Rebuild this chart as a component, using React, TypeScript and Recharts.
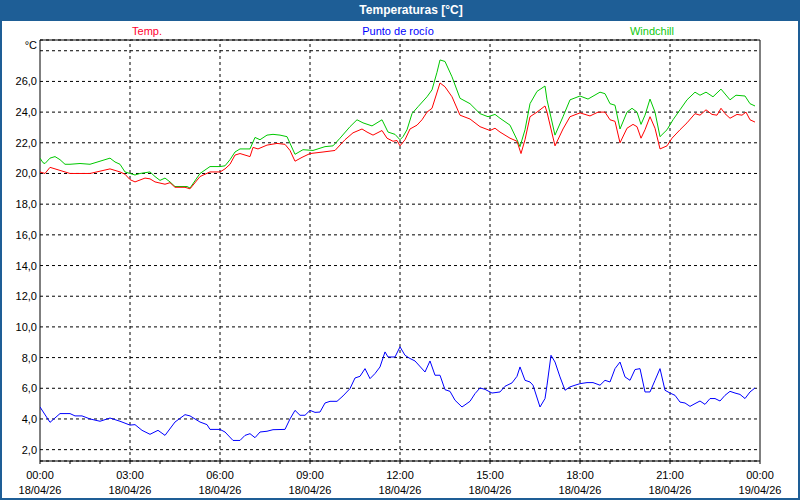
import { LineChart, Line, XAxis, YAxis, CartesianGrid, ReferenceLine, ReferenceArea } from "recharts";

// minutes since 00:00 on 18/04/26
const tempMinutes = [0, 10, 20, 40, 60, 80, 100, 120, 140, 160, 170, 180, 190, 210, 220, 230, 250, 260, 270, 290, 300, 320, 340, 360, 370, 380, 390, 400, 420, 426, 436, 454, 474, 490, 500, 510, 524, 540, 566, 590, 610, 626, 644, 654, 666, 684, 694, 706, 714, 720, 730, 740, 754, 764, 774, 784, 800, 810, 824, 840, 860, 880, 900, 910, 920, 940, 954, 962, 970, 980, 994, 1010, 1014, 1030, 1046, 1060, 1080, 1100, 1116, 1130, 1140, 1150, 1160, 1174, 1186, 1194, 1202, 1210, 1220, 1230, 1240, 1254, 1264, 1280, 1294, 1310, 1320, 1332, 1344, 1354, 1362, 1370, 1380, 1394, 1404, 1412, 1420, 1430];
const tempValues = [20.1, 20.0, 20.4, 20.2, 20.0, 20.0, 20.0, 20.15, 20.3, 20.1, 19.95, 19.6, 19.45, 19.7, 19.65, 19.45, 19.3, 19.4, 19.1, 19.1, 19.0, 19.8, 20.1, 20.1, 20.3, 20.6, 21.2, 21.3, 21.1, 21.7, 21.6, 21.85, 21.96, 21.9, 21.5, 20.8, 21.05, 21.3, 21.4, 21.5, 22.2, 22.65, 22.9, 22.7, 22.5, 22.8, 22.3, 22.1, 22.15, 21.8, 22.2, 22.9, 23.15, 23.5, 24.0, 24.25, 25.9, 25.65, 25.0, 23.8, 23.55, 23.05, 22.8, 22.95, 22.7, 22.3, 22.1, 21.3, 22.2, 23.7, 24.0, 24.4, 24.0, 21.8, 22.9, 23.7, 23.95, 23.75, 24.0, 24.0, 23.5, 23.4, 22.0, 22.95, 23.2, 23.05, 22.3, 22.85, 23.7, 22.95, 21.6, 21.8, 22.3, 22.85, 23.3, 23.9, 23.8, 24.15, 23.85, 23.8, 24.25, 23.9, 23.6, 23.85, 23.8, 24.0, 23.5, 23.35];

const windMinutes = [0, 6, 10, 20, 30, 40, 50, 60, 80, 100, 120, 140, 150, 160, 170, 190, 200, 220, 230, 240, 250, 260, 270, 294, 300, 320, 340, 360, 370, 380, 390, 400, 420, 430, 440, 454, 466, 480, 494, 510, 526, 546, 570, 586, 600, 620, 634, 646, 664, 684, 696, 710, 720, 726, 734, 744, 756, 774, 784, 794, 800, 810, 824, 840, 860, 880, 896, 910, 920, 940, 954, 960, 970, 980, 994, 1010, 1014, 1030, 1046, 1060, 1080, 1096, 1120, 1130, 1140, 1150, 1160, 1174, 1184, 1194, 1202, 1210, 1220, 1230, 1240, 1254, 1266, 1280, 1294, 1310, 1320, 1332, 1346, 1362, 1380, 1392, 1410, 1420, 1430];
const windValues = [21.0, 20.7, 20.65, 21.0, 21.1, 20.9, 20.6, 20.6, 20.65, 20.6, 20.8, 21.0, 20.75, 20.6, 20.1, 19.9, 20.0, 20.1, 19.8, 19.55, 19.7, 19.45, 19.15, 19.15, 19.05, 20.0, 20.45, 20.45, 20.5, 20.9, 21.4, 21.6, 21.6, 22.35, 22.2, 22.5, 22.55, 22.5, 22.4, 21.25, 21.55, 21.5, 21.75, 21.8, 22.3, 23.05, 23.5, 23.3, 23.1, 23.5, 22.7, 22.55, 22.2, 22.4, 22.85, 23.9, 24.35, 25.0, 25.45, 26.6, 27.4, 27.3, 26.3, 24.9, 24.55, 23.9, 23.7, 23.85, 23.6, 23.15, 22.2, 21.75, 22.85, 24.55, 25.35, 25.7, 24.8, 22.5, 23.7, 24.8, 25.05, 24.85, 25.3, 25.2, 24.55, 24.45, 22.9, 24.0, 24.25, 24.0, 23.2, 23.8, 24.85, 24.0, 22.4, 22.85, 23.5, 24.15, 24.8, 25.3, 25.1, 25.3, 25.0, 25.5, 24.8, 25.1, 25.05, 24.55, 24.4];

const dewMinutes = [0, 20, 40, 60, 70, 84, 100, 120, 140, 160, 180, 190, 204, 220, 236, 250, 270, 290, 300, 320, 334, 340, 360, 370, 386, 400, 410, 420, 430, 440, 454, 466, 490, 500, 510, 520, 530, 540, 550, 560, 570, 580, 594, 606, 620, 630, 640, 650, 660, 670, 680, 690, 696, 710, 720, 730, 740, 750, 770, 780, 790, 800, 810, 820, 830, 844, 860, 870, 880, 890, 904, 920, 930, 944, 954, 960, 970, 980, 986, 1000, 1010, 1014, 1022, 1030, 1040, 1050, 1060, 1070, 1080, 1094, 1106, 1120, 1130, 1140, 1150, 1160, 1170, 1180, 1190, 1200, 1210, 1220, 1230, 1240, 1250, 1260, 1270, 1280, 1290, 1300, 1310, 1320, 1330, 1340, 1350, 1360, 1370, 1380, 1390, 1400, 1410, 1420, 1430];
const dewValues = [4.78, 3.78, 4.35, 4.35, 4.2, 4.2, 4.0, 3.85, 4.06, 3.85, 3.6, 3.63, 3.26, 3.0, 3.26, 2.93, 3.8, 4.28, 4.2, 3.8, 3.63, 3.32, 3.32, 3.15, 2.6, 2.6, 2.93, 3.04, 2.78, 3.15, 3.2, 3.3, 3.32, 4.0, 4.56, 4.24, 4.24, 4.56, 4.43, 4.45, 5.04, 5.15, 5.15, 5.5, 5.98, 6.67, 6.78, 7.28, 6.63, 6.96, 7.39, 8.37, 8.04, 8.04, 8.7, 8.15, 7.94, 7.78, 7.06, 7.78, 6.85, 6.85, 5.91, 5.8, 5.22, 4.78, 5.15, 5.65, 6.02, 5.93, 5.69, 5.76, 6.13, 6.35, 6.78, 7.39, 6.52, 6.41, 6.2, 4.78, 5.33, 6.2, 8.15, 7.71, 6.74, 5.87, 6.09, 6.2, 6.3, 6.37, 6.37, 6.2, 6.52, 6.41, 7.28, 7.71, 6.74, 6.52, 7.22, 7.28, 5.76, 5.76, 6.52, 7.28, 5.87, 5.69, 5.54, 5.1, 5.04, 4.82, 5.0, 5.17, 4.95, 5.33, 5.33, 5.17, 5.54, 5.8, 5.69, 5.6, 5.33, 5.76, 6.02];

const hourTicks = [0, 60, 120, 180, 240, 300, 360, 420, 480, 540, 600, 660, 720, 780, 840, 900, 960, 1020, 1080, 1140, 1200, 1260, 1320, 1380, 1440];
const labelTicks = [0, 180, 360, 540, 720, 900, 1080, 1260, 1440];
const timeLabels = ["00:00", "03:00", "06:00", "09:00", "12:00", "15:00", "18:00", "21:00", "00:00"];
const dateLabels = ["18/04/26", "18/04/26", "18/04/26", "18/04/26", "18/04/26", "18/04/26", "18/04/26", "18/04/26", "19/04/26"];
const yTicks = [2, 4, 6, 8, 10, 12, 14, 16, 18, 20, 22, 24, 26, 28];

const Y_MIN = 1.26;
const Y_MAX = 28.7;
const FONT = "'Liberation Sans', Arial, sans-serif";

const zip = (ts: number[], vs: number[]) => ts.map((t, i) => ({ t, v: vs[i] }));
const tempData = zip(tempMinutes, tempValues);
const windData = zip(windMinutes, windValues);
const dewData = zip(dewMinutes, dewValues);

const XTick = (props: any) => {
  const { x, y, payload } = props;
  const idx = labelTicks.indexOf(payload.value);
  if (idx < 0) return <g />;
  return (
    <text x={x} y={y} textAnchor="middle" fontSize={11} fontFamily={FONT} fill="#000">
      <tspan x={x} dy={13}>{timeLabels[idx]}</tspan>
      <tspan x={x} dy={15}>{dateLabels[idx]}</tspan>
    </text>
  );
};

const YTick = (props: any) => {
  const { x, y, payload } = props;
  if (payload.value === 28) return <g />;
  return (
    <text x={x} y={y} dy={4} textAnchor="end" fontSize={11} fontFamily={FONT} fill="#000">
      {payload.value.toFixed(1).replace(".", ",")}
    </text>
  );
};

const legendStyle = (left: number, color: string): React.CSSProperties => ({
  position: "absolute",
  left,
  top: 25,
  transform: "translateX(-50%)",
  fontSize: 11,
  fontFamily: FONT,
  color,
  whiteSpace: "nowrap",
});

export default function App() {
  return (
    <div style={{ position: "fixed", left: 0, top: 0, width: 800, height: 500, background: "#1e5e96" }}>
      <div style={{ position: "absolute", left: 2, top: 21, width: 796, height: 477, background: "#fff" }} />
      <div
        style={{
          position: "absolute", left: 0, top: 3, width: 822, textAlign: "center",
          color: "#fff", fontWeight: "bold", fontSize: 12, fontFamily: FONT,
        }}
      >
        Temperaturas [°C]
      </div>
      <div style={legendStyle(147, "#ff0030")}>Temp.</div>
      <div style={legendStyle(398, "#0000ff")}>Punto de rocío</div>
      <div style={legendStyle(652, "#10c810")}>Windchill</div>
      <div style={{ position: "absolute", right: 763, top: 39, fontSize: 11, fontFamily: FONT, color: "#000" }}>°C</div>
      <div style={{ position: "absolute", left: 0, top: 0 }}>
        <LineChart width={800} height={500} margin={{ top: 40, right: 40, bottom: 0, left: 0 }}>
          <CartesianGrid vertical={false} stroke="#000" strokeDasharray="3 3" />
          <XAxis
            type="number"
            dataKey="t"
            domain={[0, 1440]}
            ticks={hourTicks}
            allowDataOverflow
            axisLine={false}
            tickLine={{ stroke: "#000" }}
            tickSize={3}
            height={39}
            interval={0}
            tick={<XTick />}
          />
          <YAxis
            type="number"
            domain={[Y_MIN, Y_MAX]}
            ticks={yTicks}
            allowDataOverflow
            axisLine={false}
            tickLine={false}
            tickSize={0}
            tickMargin={3}
            width={40}
            interval={0}
            tick={<YTick />}
          />
          {labelTicks.slice(1, -1).map((m) => (
            <ReferenceLine key={m} x={m} stroke="#000" strokeDasharray="3 3" />
          ))}
          <ReferenceArea x1={0} x2={1440} y1={Y_MIN} y2={Y_MAX} stroke="#000" fill="none" fillOpacity={0} />
          <Line data={dewData} dataKey="v" type="linear" stroke="#0000ff" strokeWidth={1} dot={false} isAnimationActive={false} />
          <Line data={windData} dataKey="v" type="linear" stroke="#00c800" strokeWidth={1} dot={false} isAnimationActive={false} />
          <Line data={tempData} dataKey="v" type="linear" stroke="#ff0000" strokeWidth={1} dot={false} isAnimationActive={false} />
        </LineChart>
      </div>
    </div>
  );
}
